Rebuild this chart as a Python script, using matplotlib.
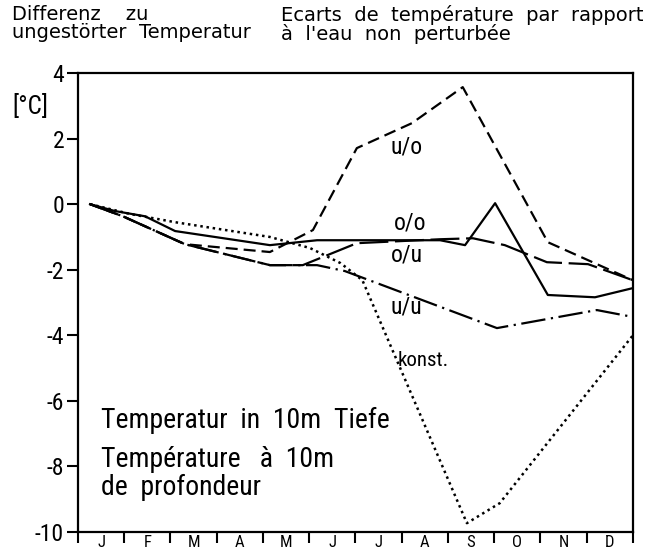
import numpy as np
import matplotlib.pyplot as plt

plt.rcParams['font.family'] = ['DejaVu Sans Condensed', 'Roboto Condensed',
                               'Liberation Sans Narrow', 'Roboto', 'DejaVu Sans']
plt.rcParams['axes.unicode_minus'] = False

months = ['J', 'F', 'M', 'A', 'M', 'J', 'J', 'A', 'S', 'O', 'N', 'D']

# x positions in months (0 = start of Jan), y = temperature difference [°C]
oo_x = [0.26, 0.8, 1.45, 2.1, 4.15, 5.17, 7.83, 8.37, 9.02, 10.16, 11.18, 12.0]
oo_y = [0.0, -0.21, -0.37, -0.82, -1.25, -1.1, -1.1, -1.25, 0.03, -2.77, -2.84, -2.56]

uo_x = [0.26, 0.97, 2.31, 4.15, 5.08, 6.03, 7.22, 8.32, 10.16, 12.0]
uo_y = [0.0, -0.37, -1.22, -1.46, -0.79, 1.71, 2.47, 3.57, -1.16, -2.32]

ou_x = [0.26, 0.97, 2.31, 4.15, 4.86, 6.03, 7.83, 8.54, 9.23, 10.14, 11.03, 12.0]
ou_y = [0.0, -0.37, -1.22, -1.86, -1.86, -1.19, -1.07, -1.04, -1.25, -1.77, -1.83, -2.32]

uu_x = [0.26, 0.97, 2.31, 4.15, 5.17, 5.77, 9.06, 11.22, 12.0]
uu_y = [0.0, -0.37, -1.22, -1.86, -1.86, -2.04, -3.78, -3.23, -3.44]

konst_x = [0.26, 1.13, 2.10, 4.15, 5.02, 5.68, 6.15, 8.41, 9.12, 12.0]
konst_y = [0.0, -0.3, -0.55, -1.0, -1.34, -1.8, -2.32, -9.73, -9.12, -4.0]

fig = plt.figure(figsize=(6.49, 5.52), dpi=100)
ax = fig.add_axes([0.1202, 0.0362, 0.855, 0.8315])

lw = 1.6
ax.plot(oo_x, oo_y, color='black', lw=lw, ls='-')
ax.plot(uo_x, uo_y, color='black', lw=lw, dashes=(5.4, 2.7))
ax.plot(ou_x, ou_y, color='black', lw=lw, dashes=(13, 3))
ax.plot(uu_x, uu_y, color='black', lw=lw, dashes=(11, 2.5, 1, 2.5))
ax.plot(konst_x, konst_y, color='black', lw=1.8, ls=(0, (1, 1.5)))

ax.set_xlim(0, 12)
ax.set_ylim(-10, 4)
ax.set_yticks(np.arange(-10, 5, 2))
ax.set_xticks(np.arange(0, 13))
ax.set_xticklabels([])
ax.set_xticks(np.arange(0.5, 12), minor=True)
ax.set_xticklabels(months, minor=True)
ax.tick_params(axis='x', which='major', direction='out', length=8, width=1.5)
ax.tick_params(axis='x', which='minor', length=0, pad=2, labelsize=12)
ax.tick_params(axis='y', direction='out', length=8, width=1.5, labelsize=17, pad=2)
for s in ax.spines.values():
    s.set_linewidth(1.6)

# curve labels
ax.text(7.11, 1.74, 'u/o', fontsize=17, ha='center', va='center')
ax.text(7.18, -0.58, 'o/o', fontsize=17, ha='center', va='center')
ax.text(7.11, -1.55, 'o/u', fontsize=17, ha='center', va='center')
ax.text(7.11, -3.14, 'u/u', fontsize=17, ha='center', va='center')
ax.text(6.92, -4.76, 'konst.', fontsize=15, ha='left', va='center')

ax.text(0.5, -6.6, 'Temperatur  in  10m  Tiefe', fontsize=20, ha='left', va='center')
ax.text(0.5, -7.8, 'Température   à  10m', fontsize=20, ha='left', va='center')
ax.text(0.5, -8.65, 'de  profondeur', fontsize=20, ha='left', va='center')

fig.text(12 / 649, 1 - 94 / 552, '[°C]', fontsize=18, ha='left', va='top')
fig.text(12 / 649, 1 - 5 / 552, 'Differenz    zu\nungestörter  Temperatur',
         fontsize=14, ha='left', va='top', linespacing=0.95, family='DejaVu Sans')
fig.text(281 / 649, 1 - 5 / 552,
         'Ecarts  de  température  par  rapport\nà  l\'eau  non  perturbée',
         fontsize=14, ha='left', va='top', linespacing=0.95, family='DejaVu Sans')

fig.savefig('out.png', dpi=100, facecolor='white')
